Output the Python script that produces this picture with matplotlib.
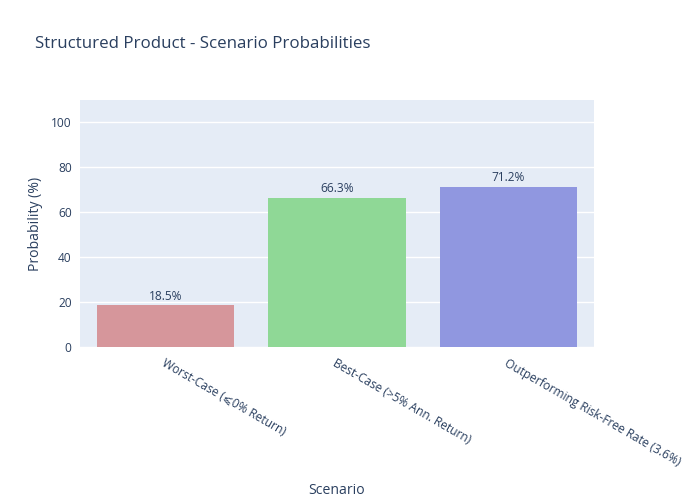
import matplotlib
matplotlib.use("Agg")
import matplotlib.pyplot as plt

categories = ["Worst-Case (\u2a7d0% Return)", "Best-Case (>5% Ann. Return)", "Outperforming Risk-Free Rate (3.6%)"]
probabilities = [18.5, 66.3, 71.2]
bar_colors = ["#d6969b", "#8fd896", "#9097e0"]
yticks = [0, 20, 40, 60, 80, 100]

plt.rcParams['font.family'] = ['Open Sans', 'DejaVu Sans']
text_color = "#2a3f5f"

fig = plt.figure(figsize=(7, 5), dpi=100)
ax = fig.add_axes([80/700, 1 - 347/500, (594-80)/700, (347-100)/500])
ax.set_facecolor("#E5ECF6")
x = list(range(len(categories)))
ax.bar(x, probabilities, width=0.8, color=bar_colors, zorder=3)
for xi, v in zip(x, probabilities):
    ax.text(xi, v + 1.2, f"{v:.1f}%", ha="center", va="bottom", fontsize=8.6, color=text_color, zorder=4)
ax.set_xlim(-0.5, len(categories) - 0.5)
ax.set_ylim(0, 110)
ax.set_yticks(yticks)
ax.set_yticklabels([str(t) for t in yticks], fontsize=8.6, color=text_color)
ax.set_xticks(x)
ax.set_xticklabels(categories, rotation=-30, ha="left", va="top", rotation_mode="anchor", fontsize=8.6, color=text_color)
ax.tick_params(axis="both", length=0, pad=6)
ax.tick_params(axis="x", pad=7)
ax.grid(axis="y", color="white", linewidth=1, zorder=0)
for s in ax.spines.values():
    s.set_visible(False)
ax.set_ylabel("Probability (%)", fontsize=10.1, color=text_color)
ax.yaxis.set_label_coords(-(80-43)/514, 0.5)
ax.set_xlabel("Scenario", fontsize=10.1, color=text_color)
ax.xaxis.set_label_coords((337-80)/514, -(483-347)/247)
fig.text(35/700, 1 - 44/500, "Structured Product - Scenario Probabilities", fontsize=12.2, color=text_color, va="center", ha="left")
fig.savefig("out.png", dpi=100, facecolor="white")
